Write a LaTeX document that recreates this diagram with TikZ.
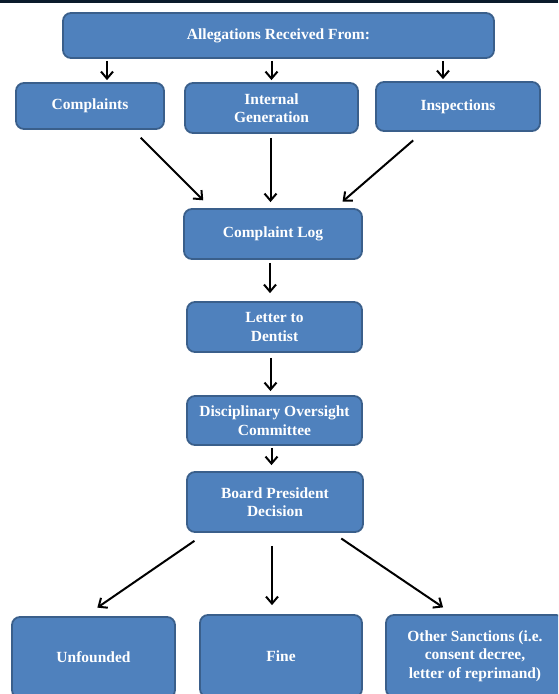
\documentclass[tikz,border=0pt]{standalone}
\usepackage{fontspec}
\setmainfont{Liberation Serif}
\usetikzlibrary{arrows.meta,positioning,shapes}
\definecolor{boxfill}{HTML}{4F81BD}
\definecolor{boxline}{HTML}{3A5F8B}
\definecolor{topbar}{HTML}{0B1B2B}

\begin{document}
\begin{tikzpicture}[x=1pt,y=-1pt,font=\bfseries\fontsize{15.5}{18.5}\selectfont]
\tikzstyle{arc}=[-{Straight Barb[length=7pt,width=12pt]},line width=2pt,black]
\tikzstyle{box}=[rectangle,rounded corners=8pt,draw=boxline,line width=1.8pt,fill=boxfill,text=white,align=center,inner sep=2pt]
\useasboundingbox (0,0) rectangle (558,694);
\clip (0,0) rectangle (558,694);
\fill[topbar] (0,0) rectangle (558,3);
%% TikZ-figure elements %%
\node[box,minimum width=431pt,minimum height=45pt] at (278.5,35.5) (alleg) {Allegations Received From:};
\node[box,minimum width=148pt,minimum height=46pt] at (90,106) (compl) {Complaints};
\node[box,minimum width=173pt,minimum height=50pt] at (271.5,108) (intgen) {Internal\\Generation};
\node[box,minimum width=164pt,minimum height=49pt] at (458,106.5) (insp) {Inspections};
\node[box,minimum width=178pt,minimum height=50pt] at (273,234) (log) {Complaint Log};
\node[box,minimum width=175pt,minimum height=50pt] at (274.5,327) (letter) {Letter to\\Dentist};
\node[box,minimum width=175pt,minimum height=49pt] at (274.5,420.5) (disc) {Disciplinary Oversight\\Committee};
\node[box,minimum width=176pt,minimum height=60pt] at (275,502) (board) {Board President\\Decision};
\node[box,minimum width=163pt,minimum height=81pt] at (93.5,657.5) (unf) {Unfounded};
\node[box,minimum width=162pt,minimum height=82pt] at (281,656) (fine) {Fine};
\node[box,minimum width=178pt,minimum height=82pt] at (475,656) (other) {Other Sanctions (i.e.\\consent decree,\\letter of reprimand)};
\draw[arc,shorten <=2pt,shorten >=2pt] ([xshift=17pt]compl.north |- alleg.south) to ([xshift=17pt]compl.north);
\draw[arc,shorten <=2pt,shorten >=2pt] (intgen.north |- alleg.south) to (intgen.north);
\draw[arc,shorten <=2pt,shorten >=2pt] ([xshift=-15pt]insp.north |- alleg.south) to ([xshift=-15pt]insp.north);
\draw[arc,shorten <=11pt,shorten >=11pt] ([xshift=43pt]compl.south) to ([xshift=-62pt]log.north);
\draw[arc,shorten <=4pt,shorten >=6pt] ([xshift=-1pt]intgen.south) to ([xshift=-1pt]intgen.south |- log.north);
\draw[arc,shorten <=13pt,shorten >=10pt] ([xshift=-35pt]insp.south) to ([xshift=62pt]log.north);
\draw[arc,shorten <=3pt,shorten >=8pt] ([xshift=-3pt]log.south) to ([xshift=-3pt]log.south |- letter.north);
\draw[arc,shorten <=5pt,shorten >=4pt] ([xshift=-4pt]letter.south) to ([xshift=-4pt]letter.south |- disc.north);
\draw[arc,shorten <=2pt,shorten >=6pt] ([xshift=-3pt]disc.south) to ([xshift=-3pt]disc.south |- board.north);
\draw[arc,shorten <=14pt,shorten >=15pt] ([xshift=-69pt]board.south) to ([xshift=-8.5pt]unf.north);
\draw[arc,shorten <=13pt,shorten >=9pt] ([xshift=-3pt]board.south) to ([xshift=-3pt]board.south |- fine.north);
\draw[arc,shorten <=10pt,shorten >=12pt] ([xshift=58pt]board.south) to ([xshift=-22pt]other.north);
\end{tikzpicture}
\end{document}
